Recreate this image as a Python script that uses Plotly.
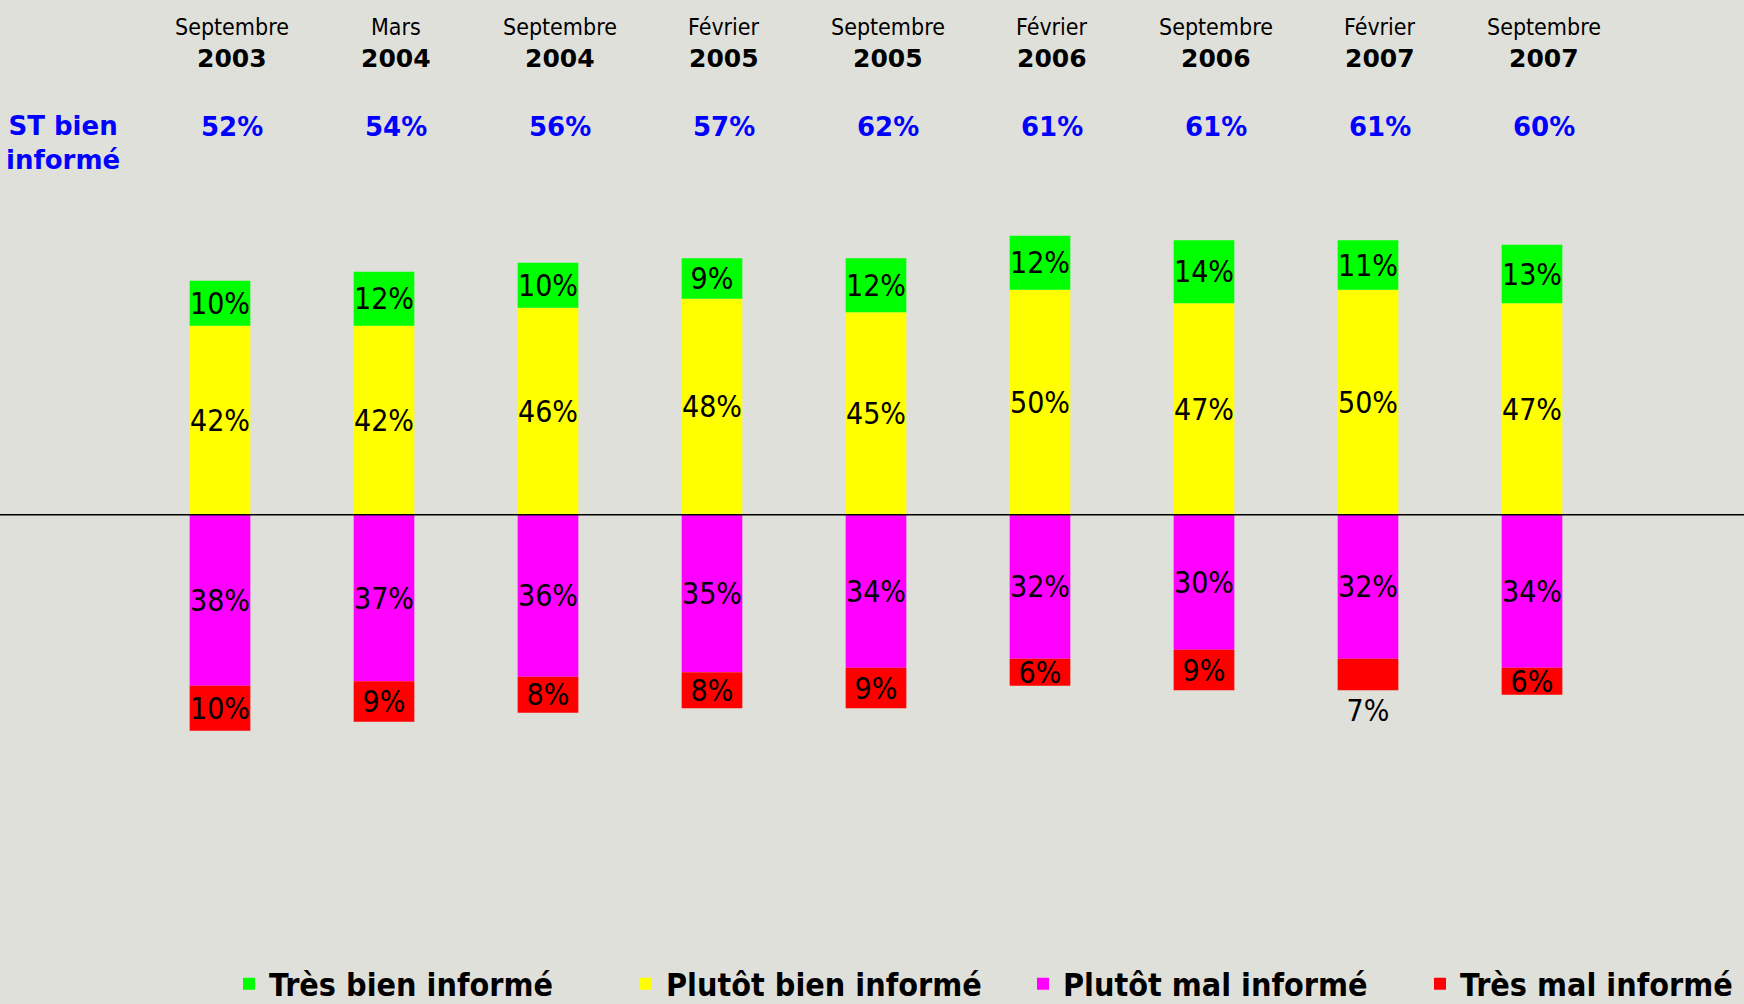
import plotly.graph_objects as go

# Survey waves
months = ["Septembre", "Mars", "Septembre", "Février", "Septembre",
          "Février", "Septembre", "Février", "Septembre"]
years = ["2003", "2004", "2004", "2005", "2005", "2006", "2006", "2007", "2007"]

# Sous-total "bien informé" shown above the bars
st_bien = [52, 54, 56, 57, 62, 61, 61, 61, 60]

# Segment values (%)
tres_bien = [10, 12, 10, 9, 12, 12, 14, 11, 13]
plutot_bien = [42, 42, 46, 48, 45, 50, 47, 50, 47]
plutot_mal = [38, 37, 36, 35, 34, 32, 30, 32, 34]
tres_mal = [10, 9, 8, 8, 9, 6, 9, 7, 6]

BG = "#E0E0DB"
LABEL_FONT = "DejaVu Sans Condensed, DejaVu Sans"
x = list(range(len(months)))

# the Feb 2007 "très mal" label sits under its bar in the original
red_textpos = ["inside"] * 7 + ["outside", "inside"]

series = [
    # name, values, colour, sign, legend rank, label position
    ("Plutôt bien informé", plutot_bien, "#FFFF00", 1, 2, "inside"),
    ("Très bien informé", tres_bien, "#00FF00", 1, 1, "inside"),
    ("Plutôt mal informé", plutot_mal, "#FF00FF", -1, 3, "inside"),
    ("Très mal informé", tres_mal, "#FF0000", -1, 4, red_textpos),
]

label_font = dict(family=LABEL_FONT, size=30, color="black")

fig = go.Figure()
for name, vals, color, sign, rank, tpos in series:
    fig.add_trace(go.Bar(
        x=x,
        y=[sign * v for v in vals],
        name=name,
        marker=dict(color=color, line=dict(width=0)),
        text=[f"{v}%" for v in vals],
        textposition=tpos,
        insidetextanchor="middle",
        constraintext="none",
        textangle=0,
        textfont=label_font,
        insidetextfont=label_font,
        outsidetextfont=label_font,
        legendrank=rank,
        cliponaxis=False,
    ))

# Column headers: month, year and sub-total
for i in x:
    fig.add_annotation(x=i, y=1 - 27 / 1004, xref="x", yref="paper", xshift=12,
                       yanchor="middle", text=months[i], showarrow=False,
                       font=dict(family=LABEL_FONT, size=23, color="black"))
    fig.add_annotation(x=i, y=1 - 59 / 1004, xref="x", yref="paper", xshift=12,
                       yanchor="middle", text=f"<b>{years[i]}</b>", showarrow=False,
                       font=dict(family="DejaVu Sans", size=25, color="black"))
    fig.add_annotation(x=i, y=1 - 127 / 1004, xref="x", yref="paper", xshift=12,
                       yanchor="middle", text=f"<b>{st_bien[i]}%</b>", showarrow=False,
                       font=dict(family="DejaVu Sans", size=26, color="#0000FF"))

fig.add_annotation(x=63 / 1744, y=1 - 143 / 1004, xref="paper", yref="paper",
                   xanchor="center", yanchor="middle",
                   text="<b>ST bien<br>informé</b>", showarrow=False,
                   font=dict(family="DejaVu Sans", size=26, color="#0000FF"))

# Zero line across the whole width
fig.add_shape(type="line", xref="paper", yref="y", x0=0, x1=1, y0=0, y1=0,
              line=dict(color="black", width=1.5))

fig.update_layout(
    width=1744,
    height=1004,
    barmode="relative",
    bargap=0.63,
    paper_bgcolor=BG,
    plot_bgcolor=BG,
    margin=dict(l=0, r=0, t=0, b=0, autoexpand=False),
    xaxis=dict(range=[-0.5, 8.5], domain=[138 / 1744, 1614 / 1744],
               visible=False, fixedrange=True),
    yaxis=dict(range=[-108.7, 114.4], visible=False, fixedrange=True),
    showlegend=True,
    legend=dict(
        orientation="h",
        x=229 / 1744,
        xanchor="left",
        y=20 / 1004,
        yanchor="middle",
        bgcolor="rgba(0,0,0,0)",
        font=dict(family=LABEL_FONT, size=32, color="black", weight="bold"),
        entrywidth=352,
        entrywidthmode="pixels",
        traceorder="normal",
    ),
)

fig.write_html(
    "out.html",
    config={"displayModeBar": False},
    post_script="document.body.style.margin='0';"
                "document.body.style.overflow='hidden';"
                "document.body.style.background='" + BG + "';",
)
